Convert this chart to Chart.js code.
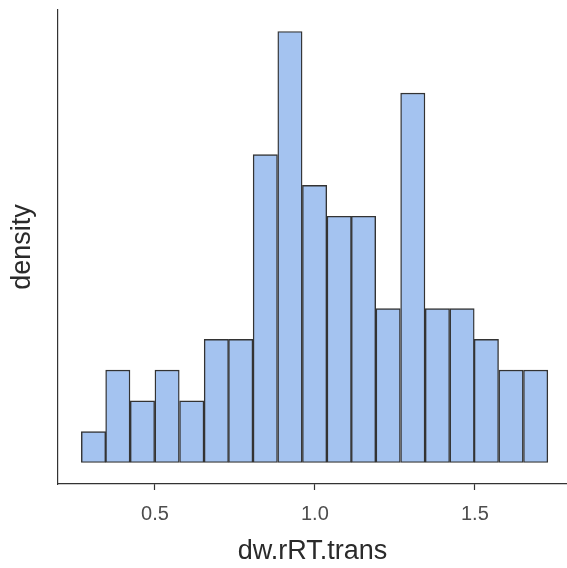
<!DOCTYPE html>
<html>
<head>
<meta charset="utf-8">
<script src="https://cdn.jsdelivr.net/npm/chart.js@4/dist/chart.umd.min.js"></script>
<style>
  html, body { margin: 0; padding: 0; background: #fff; }
  #wrap { width: 567px; height: 568px; position: relative; }
</style>
</head>
<body>
<div id="wrap"><canvas id="hist"></canvas></div>
<script>
// histogram bins (centers) and counts per bin
const binCenters = [0.308, 0.384, 0.461, 0.538, 0.615, 0.692, 0.768, 0.845, 0.922, 0.999,
                    1.076, 1.152, 1.229, 1.306, 1.383, 1.460, 1.536, 1.613, 1.690];
const counts = [1, 3, 2, 3, 2, 4, 4, 10, 14, 9, 8, 8, 5, 12, 5, 5, 4, 3, 3];
const xTicks = [0.5, 1.0, 1.5];

const font = "'Liberation Sans', Arial, Helvetica, sans-serif";

new Chart(document.getElementById("hist"), {
  type: "bar",
  data: {
    datasets: [
      {
        data: binCenters.map((x, i) => ({ x: x, y: counts[i] })),
        backgroundColor: "#a4c3f0",
        borderColor: "#333333",
        borderWidth: 1.4,
        borderSkipped: false,
        barPercentage: 1,
        categoryPercentage: 1,
      },
    ],
  },
  options: {
    responsive: true,
    maintainAspectRatio: false,
    animation: false,
    layout: { padding: { top: 10, left: 0, right: 0, bottom: 0 } },
    plugins: { legend: { display: false }, tooltip: { enabled: false } },
    scales: {
      x: {
        type: "linear",
        offset: false,
        min: 0.197,
        max: 1.788,
        afterBuildTicks: (axis) => {
          axis.ticks = xTicks.map((v) => ({ value: v }));
        },
        afterFit: (axis) => {
          axis.height = 84;
        },
        grid: {
          offset: false,
          drawOnChartArea: false,
          drawTicks: true,
          tickLength: 6,
          tickColor: "#333333",
          tickWidth: 1.2,
        },
        border: { display: true, color: "#333333", width: 1.2 },
        ticks: {
          padding: 12,
          color: "#4d4d4d",
          font: { family: font, size: 20 },
          callback: (v) => v.toFixed(1),
        },
        title: {
          display: true,
          text: "dw.rRT.trans",
          color: "#2a2a2a",
          font: { family: font, size: 27 },
          padding: { top: 0, bottom: 0 },
        },
      },
      y: {
        min: -0.7,
        max: 14.7,
        afterFit: (axis) => {
          axis.width = 58;
        },
        grid: { display: false },
        border: { display: true, color: "#333333", width: 1.2 },
        ticks: { display: false },
        title: {
          display: true,
          text: "density",
          color: "#2a2a2a",
          font: { family: font, size: 27 },
          padding: { top: 6, bottom: 0 },
        },
      },
    },
  },
});
</script>
</body>
</html>
